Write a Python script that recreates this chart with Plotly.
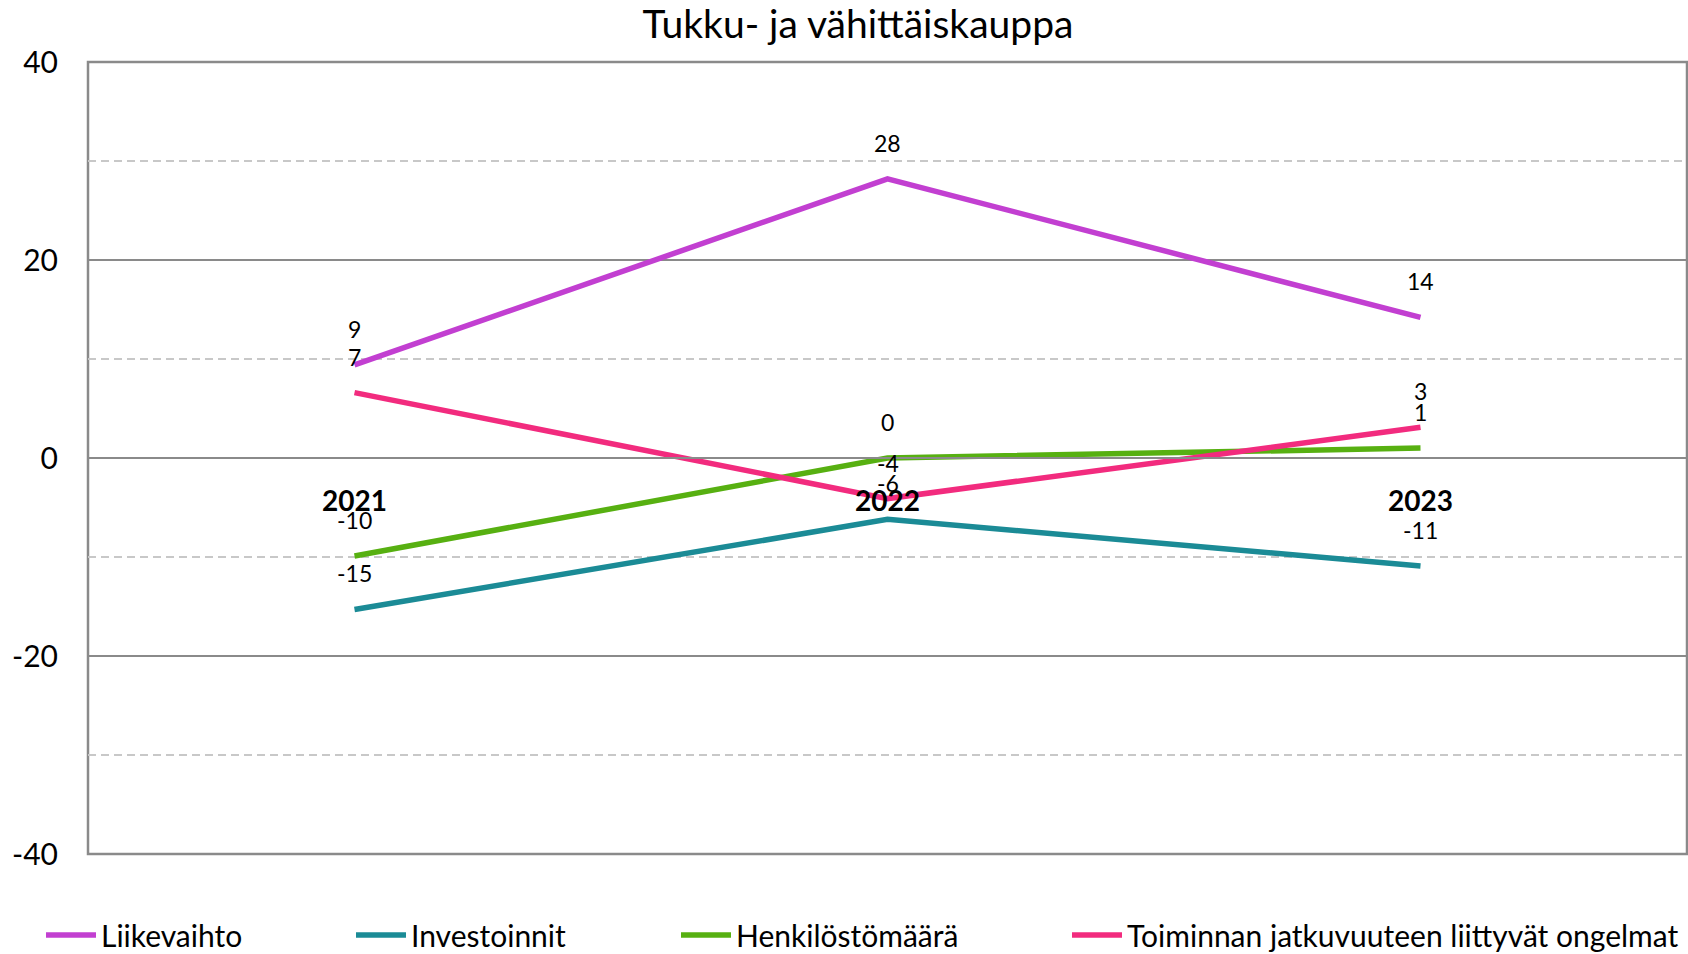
import plotly.graph_objects as go

years = ["2021", "2022", "2023"]
liikevaihto = [9.4, 28.2, 14.2]
investoinnit = [-15.3, -6.2, -10.9]
henkilosto = [-9.9, 0.0, 1.0]
toiminnan = [6.6, -4.1, 3.1]

series_names = ["Liikevaihto", "Investoinnit", "Henkilöstömäärä",
                "Toiminnan jatkuvuuteen liittyvät ongelmat"]
series_values = [liikevaihto, investoinnit, henkilosto, toiminnan]
colors = ["#C23FD1", "#1B8B96", "#57B011", "#F22B7E"]

y_ticks = [-40, -20, 0, 20, 40]

W, H = 1688, 954
FONT = "Lato"

fig = go.Figure()
legend_ids = ["legend", "legend2", "legend3", "legend4"]
legend_text_x = [102, 412, 737, 1128]

for name, vals, col, lid in zip(series_names, series_values, colors, legend_ids):
    fig.add_trace(go.Scatter(
        x=years, y=vals, name=name, mode="lines",
        line=dict(color=col, width=5.5), legend=lid,
        hoverinfo="x+y+name",
    ))
    for i, v in enumerate(vals):
        fig.add_annotation(x=i, y=v, xref="x", yref="y",
                           text=str(round(v)), showarrow=False,
                           yshift=36, yanchor="middle",
                           font=dict(family=FONT, size=23, color="black"))

legend_layout = {}
for lid, tx in zip(legend_ids, legend_text_x):
    legend_layout[lid] = dict(
        xref="container", yref="container",
        x=(tx - 61) / W, y=1 - 935 / H, xanchor="left", yanchor="middle",
        orientation="h", bgcolor="rgba(0,0,0,0)", borderwidth=0,
        itemwidth=50,
        font=dict(family=FONT, size=30, color="black"),
    )

fig.update_layout(
    width=W, height=H,
    paper_bgcolor="white", plot_bgcolor="white",
    margin=dict(l=88, r=1, t=62, b=100, autoexpand=False),
    title=dict(text="Tukku- ja vähittäiskauppa", x=858 / W, xanchor="center",
               y=1 - 24 / H, yanchor="middle",
               font=dict(family=FONT, size=39, color="black")),
    font=dict(family=FONT, color="black"),
    showlegend=True,
    **legend_layout,
)

fig.update_xaxes(
    type="category", range=[-0.5, 2.5], anchor="free", position=0.5,
    showline=True, linecolor="#8A8A8A", linewidth=2, showgrid=False,
    ticks="", ticklabelstandoff=18, automargin=False,
    tickfont=dict(family=FONT, size=28, color="black", weight="bold"),
    zeroline=False,
)
fig.update_yaxes(
    range=[-40, 40], tickvals=y_ticks, ticktext=[str(t) for t in y_ticks],
    showgrid=True, automargin=False,
    gridcolor="#8A8A8A", gridwidth=2, zeroline=False,
    ticks="", ticklabelstandoff=29,
    tickfont=dict(family=FONT, size=30, color="black"),
    minor=dict(dtick=10, tick0=0, showgrid=True, gridcolor="#C8C8C8",
               griddash="8px,5px", gridwidth=2),
)

fig.add_shape(type="rect", xref="paper", yref="paper", x0=0, x1=1, y0=0, y1=1,
              line=dict(color="#8A8A8A", width=2.5), layer="below")

fig.write_html("out.html",
               config={"displayModeBar": False},
               post_script="document.body.style.margin='0px';")
